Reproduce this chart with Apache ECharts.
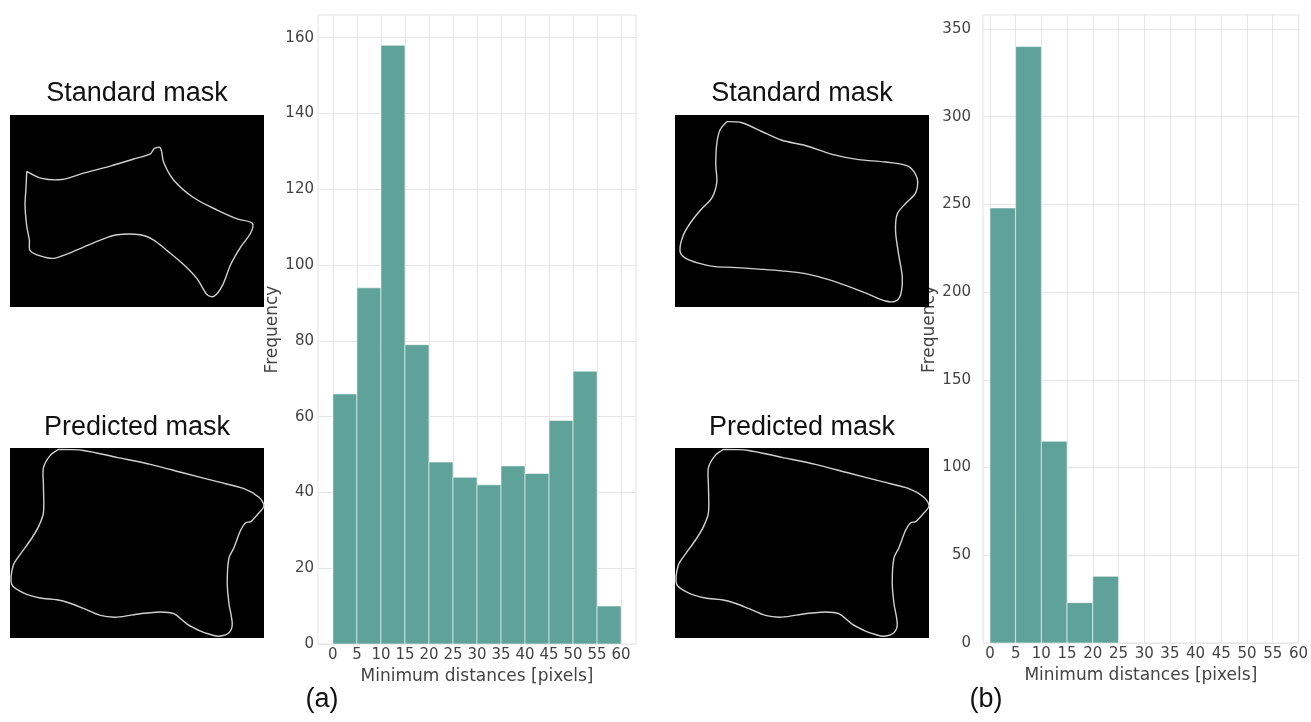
<!DOCTYPE html>
<html>
<head>
<meta charset="utf-8">
<script src="https://cdn.jsdelivr.net/npm/echarts@6/dist/echarts.min.js"></script>
<style>
html,body{margin:0;padding:0;background:#fff;}
#chart{width:1311px;height:722px;}
</style>
</head>
<body>
<div id="chart"></div>
<script>
// ---- data ----
var binStart = [0, 5, 10, 15, 20, 25, 30, 35, 40, 45, 50, 55];
var binSize = 5;
var freqA = [66, 94, 158, 79, 48, 44, 42, 47, 45, 59, 72, 10];
var freqB = [248, 340, 115, 23, 38];
var xTicks = [0, 5, 10, 15, 20, 25, 30, 35, 40, 45, 50, 55, 60];
var yTicksA = [0, 20, 40, 60, 80, 100, 120, 140, 160];
var yTicksB = [0, 50, 100, 150, 200, 250, 300, 350];
var xTitle = 'Minimum distances [pixels]';
var yTitle = 'Frequency';
var maskTitles = ['Standard mask', 'Predicted mask'];
var panelLabels = ['(a)', '(b)'];

// mask outlines (normalised 0..1 inside each picture)
var outlineStdA = [[80,205],[125,225],[185,228],[250,210],[330,190],[400,170],[450,155],[462,140],[480,138],[490,180],[520,230],[580,280],[650,315],[710,340],[755,352],[750,380],[720,420],[690,470],[665,530],[640,560],[620,555],[590,510],[550,470],[500,430],[460,400],[420,385],[350,385],[300,400],[250,420],[200,440],[160,452],[120,445],[90,430],[88,400],[80,360],[75,300],[78,250],[80,205]]
  .map(function(p){return [(p[0]-30)/760,(p[1]-45)/545];});
var outlinePred = [[175,997],[250,1000],[350,1020],[450,1040],[550,1065],[650,1090],[730,1110],[775,1135],[790,1160],[770,1185],[750,1205],[735,1208],[720,1230],[700,1280],[685,1310],[680,1380],[685,1440],[695,1500],[685,1525],[655,1535],[630,1530],[600,1520],[560,1500],[520,1470],[480,1465],[420,1470],[350,1480],[300,1475],[250,1455],[210,1440],[170,1430],[120,1425],[70,1410],[35,1385],[40,1330],[60,1300],[90,1260],[115,1220],[130,1180],[130,1100],[130,1050],[150,1015],[175,997]]
  .map(function(p){return [(p[0]-30)/760,(p[1]-993)/547];});
var outlineStdB = [[185,157],[230,160],[290,185],[350,210],[420,225],[500,250],[580,265],[660,272],[730,285],[755,320],[750,360],[720,390],[695,420],[690,470],[700,540],[710,600],[705,650],[690,668],[660,668],[600,645],[500,610],[420,590],[350,582],[280,577],[200,572],[150,570],[100,560],[60,545],[45,525],[55,480],[80,440],[110,405],[140,375],[155,330],[152,280],[155,220],[165,180],[185,157]]
  .map(function(p){return [(p[0]-30)/760,(p[1]-138)/547];});

function hist(freq){
  return freq.map(function(v,i){return [binStart[i], binStart[i]+binSize, v];});
}

var chart = echarts.init(document.getElementById('chart'), null, {renderer:'canvas'});

var txt = '#444';
var gridCol = '#e6e6e6';
var barFill = '#5fa29a';
var tickFont = {fontFamily:'DejaVu Sans', fontSize:15, color:txt};

function renderBar(params, api){
  var x0 = api.value(0), x1 = api.value(1), y = api.value(2);
  var p0 = api.coord([x0, y]);
  var p1 = api.coord([x1, 0]);
  return {
    type:'rect',
    shape:{x:p0[0], y:p0[1], width:p1[0]-p0[0], height:p1[1]-p0[1]},
    style:{fill:barFill, stroke:'rgba(255,255,255,0.55)', lineWidth:1}
  };
}

function maskGraphic(box, pts){
  var els = [{
    type:'rect', shape:{x:box[0], y:box[1], width:box[2], height:box[3]},
    style:{fill:'#000'}, z:10
  }];
  els.push({
    type:'polyline', z:11, shape:{smooth:0.3,
      points: pts.map(function(p){return [box[0]+p[0]*box[2], box[1]+p[1]*box[3]];})},
    style:{stroke:'#d0d0d0', lineWidth:1.4, fill:null}
  });
  return els;
}
function title(text, cx, cy, size){
  return {type:'text', z:12, x:cx, y:cy,
    style:{text:text, fill:'#111', font: size+'px "Liberation Sans", Arial, sans-serif', align:'center', verticalAlign:'middle'}};
}

var graphics = []
  .concat(maskGraphic([10,115,254,192], outlineStdA))
  .concat(maskGraphic([10,448,254,190], outlinePred))
  .concat(maskGraphic([675,115,254,192], outlineStdB))
  .concat(maskGraphic([675,448,254,190], outlinePred))
  .concat([
    title(maskTitles[0], 137, 94, 27),
    title(maskTitles[1], 137, 428, 27),
    title(maskTitles[0], 802, 94, 27),
    title(maskTitles[1], 802, 428, 27),
    title(panelLabels[0], 322, 700, 27),
    title(panelLabels[1], 986, 700, 27)
  ]);

function xAxisCfg(gi, min, max){
  return {
    type:'value', gridIndex:gi, min:min, max:max,
    name:xTitle, nameLocation:'middle', nameGap:19,
    nameTextStyle:{fontFamily:'DejaVu Sans', fontSize:17, color:txt},
    axisLine:{show:false}, axisTick:{show:false, customValues:xTicks},
    axisLabel:Object.assign({customValues:xTicks, margin:4}, tickFont),
    splitLine:{show:true, lineStyle:{color:gridCol, width:1}}
  };
}
function yAxisCfg(gi, max, ticks, gap, margin){
  return {
    type:'value', gridIndex:gi, min:0, max:max,
    name:yTitle, nameLocation:'middle', nameGap:gap, nameRotate:90,
    nameTextStyle:{fontFamily:'DejaVu Sans', fontSize:17, color:txt},
    axisLine:{show:false}, axisTick:{show:false, customValues:ticks},
    axisLabel:Object.assign({customValues:ticks, margin:margin}, tickFont),
    splitLine:{show:true, lineStyle:{color:gridCol, width:1}}
  };
}

chart.setOption({
  animation:false,
  backgroundColor:'#fff',
  grid:[
    {left:318, top:15, width:318, height:629, show:true, borderColor:'#e2e2e2', borderWidth:1, backgroundColor:'#fff'},
    {left:983, top:15, width:317, height:628, show:true, borderColor:'#e2e2e2', borderWidth:1, backgroundColor:'#fff'}
  ],
  xAxis:[xAxisCfg(0, -3.1, 63.1), xAxisCfg(1, -1.35, 60.05)],
  yAxis:[yAxisCfg(0, 166, yTicksA, 36, 4), yAxisCfg(1, 358, yTicksB, 34, 12)],
  series:[
    {type:'custom', xAxisIndex:0, yAxisIndex:0, data:hist(freqA), encode:{x:[0,1], y:2}, renderItem:renderBar},
    {type:'custom', xAxisIndex:1, yAxisIndex:1, data:hist(freqB), encode:{x:[0,1], y:2}, renderItem:renderBar}
  ],
  graphic:graphics
});
</script>
</body>
</html>
